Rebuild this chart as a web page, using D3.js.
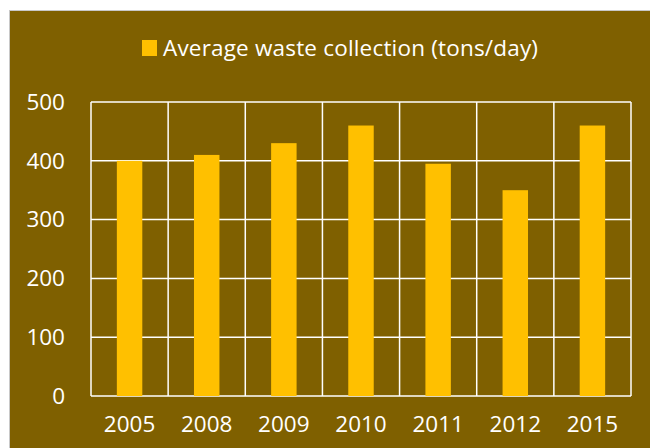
<!DOCTYPE html>
<html>
<head>
<meta charset="UTF-8">
<style>
  body { margin: 0; background: #ffffff; }
  svg { display: block; font-family: "Open Sans", sans-serif; }
</style>
</head>
<body>
<svg></svg>
<script src="https://d3js.org/d3.v7.min.js"></script>
<script>
const years = ["2005", "2008", "2009", "2010", "2011", "2012", "2015"];
const waste = [400, 410, 430, 460, 395, 350, 460];
const yTicks = [0, 100, 200, 300, 400, 500];
const seriesName = "Average waste collection (tons/day)";

const width = 650, height = 448;
const margin = {left: 91, right: 19, top: 102, bottom: 52};
const fontSize = 22.5;

const svg = d3.select("svg").attr("width", width).attr("height", height);

// chart background
svg.append("rect")
  .attr("x", 9.5).attr("y", 10.5)
  .attr("width", width - 9).attr("height", height - 10)
  .attr("fill", "#7f6000")
  .attr("stroke", "#c8c8c8");

const x = d3.scaleBand()
  .domain(years)
  .range([margin.left, width - margin.right])
  .paddingInner(0.67).paddingOuter(0.335);

const cats = d3.scaleBand().domain(years).range([margin.left, width - margin.right]);

const y = d3.scaleLinear()
  .domain([0, 500])
  .range([height - margin.bottom, margin.top]);

// grid
const grid = svg.append("g").attr("stroke", "#ffffff").attr("stroke-width", 1.5);
grid.selectAll(".h").data(yTicks).enter().append("line")
  .attr("x1", margin.left).attr("x2", width - margin.right)
  .attr("y1", d => y(d)).attr("y2", d => y(d));
grid.selectAll(".v").data(years.concat(["end"])).enter().append("line")
  .attr("x1", (d, i) => i < years.length ? cats(d) : width - margin.right)
  .attr("x2", (d, i) => i < years.length ? cats(d) : width - margin.right)
  .attr("y1", y(0)).attr("y2", y(500));

// bars
svg.append("g").selectAll("rect").data(years).enter().append("rect")
  .attr("x", d => x(d))
  .attr("width", x.bandwidth())
  .attr("y", (d, i) => y(waste[i]))
  .attr("height", (d, i) => y(0) - y(waste[i]))
  .attr("fill", "#ffc000");

// y axis labels
svg.append("g").selectAll("text").data(yTicks).enter().append("text")
  .attr("x", 65).attr("y", d => y(d))
  .attr("dy", "0.35em")
  .attr("text-anchor", "end")
  .attr("fill", "#ffffff")
  .attr("font-size", fontSize)
  .text(d => d);

// x axis labels
svg.append("g").selectAll("text").data(years).enter().append("text")
  .attr("x", d => cats(d) + cats.bandwidth() / 2)
  .attr("y", 432)
  .attr("text-anchor", "middle")
  .attr("fill", "#ffffff")
  .attr("font-size", fontSize)
  .text(d => d);

// legend
const legend = svg.append("g");
legend.append("rect")
  .attr("x", 142).attr("y", 40).attr("width", 15).attr("height", 16)
  .attr("fill", "#ffc000");
legend.append("text")
  .attr("x", 163).attr("y", 56)
  .attr("fill", "#ffffff")
  .attr("font-size", fontSize)
  .attr("textLength", 375)
  .text(seriesName);
</script>
</body>
</html>
